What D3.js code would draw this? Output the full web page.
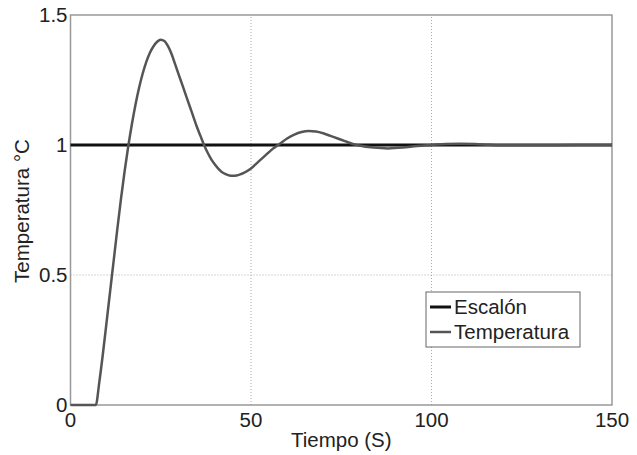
<!DOCTYPE html>
<html>
<head>
<meta charset="utf-8">
<script src="https://cdn.jsdelivr.net/npm/d3@7"></script>
<style>
  body { margin: 0; background: #fff; }
  text { font-family: "Liberation Sans", Arial, sans-serif; fill: #222; }
</style>
</head>
<body>
<script>
// step response, values
var tiempo = [0, 7, 8, 9, 10, 11, 12, 13, 14, 15, 16, 17, 18, 19, 20, 21, 22, 23, 24, 25,
  26, 27, 28, 29, 30, 31, 32, 33, 34, 35, 36, 37, 38, 39, 40, 41, 42, 43, 44, 45,
  46, 47, 48, 50, 52, 54, 56, 58, 60, 62, 64, 66, 68, 70, 72, 74, 76, 78, 80, 84,
  88, 92, 96, 100, 104, 108, 112, 116, 120, 130, 140, 150];
var temperatura = [0, 0, 0.09, 0.2, 0.32, 0.44, 0.56, 0.68, 0.795, 0.9, 0.995, 1.08, 1.155, 1.22, 1.275, 1.32, 1.355, 1.38, 1.397, 1.405,
  1.40, 1.38, 1.35, 1.31, 1.27, 1.23, 1.19, 1.15, 1.11, 1.07, 1.035, 1.0, 0.97, 0.945, 0.925, 0.908, 0.895, 0.888, 0.883, 0.882,
  0.883, 0.887, 0.893, 0.91, 0.935, 0.96, 0.985, 1.005, 1.025, 1.04, 1.05, 1.054, 1.052, 1.045, 1.035, 1.025, 1.015, 1.005, 0.998, 0.99,
  0.987, 0.99, 0.996, 1.0, 1.004, 1.005, 1.004, 1.001, 0.999, 0.999, 1.0, 1.0];
var escalon = [[0, 1], [150, 1]];
var xTicks = [0, 50, 100, 150];
var yTicks = [0, 0.5, 1, 1.5];
var yTickLabels = ["0", "0.5", "1", "1.5"];
var seriesNames = ["Escalón", "Temperatura"];

var width = 637, height = 455;
var margin = {top: 15, right: 25, bottom: 50, left: 70.5};
var fs = 20.5;

var svg = d3.select("body").append("svg")
    .attr("width", width)
    .attr("height", height);

var x = d3.scaleLinear().domain([0, 150]).range([margin.left, 612]);
var y = d3.scaleLinear().domain([0, 1.5]).range([405, margin.top]);

// grid
svg.selectAll(".gx")
  .data(xTicks.slice(1, -1))
  .enter().append("line")
    .attr("x1", function(d) { return x(d); })
    .attr("x2", function(d) { return x(d); })
    .attr("y1", y(0)).attr("y2", y(1.5))
    .attr("stroke", "#aaa").attr("stroke-width", 1)
    .attr("stroke-dasharray", "1,2");
svg.selectAll(".gy")
  .data(yTicks.slice(1, -1))
  .enter().append("line")
    .attr("y1", function(d) { return y(d); })
    .attr("y2", function(d) { return y(d); })
    .attr("x1", x(0)).attr("x2", x(150))
    .attr("stroke", "#aaa").attr("stroke-width", 1)
    .attr("stroke-dasharray", "1,2");

// box
svg.append("rect")
    .attr("x", x(0)).attr("y", y(1.5))
    .attr("width", x(150) - x(0)).attr("height", y(0) - y(1.5))
    .attr("fill", "none").attr("stroke", "#999").attr("stroke-width", 1.5);

// tick labels
svg.selectAll(".xl")
  .data(xTicks)
  .enter().append("text")
    .attr("x", function(d) { return x(d); })
    .attr("y", 427)
    .attr("text-anchor", "middle")
    .attr("font-size", fs)
    .text(function(d) { return d; });
svg.selectAll(".yl")
  .data(yTicks)
  .enter().append("text")
    .attr("x", x(0) - 3)
    .attr("y", function(d) { return y(d) + 7; })
    .attr("text-anchor", "end")
    .attr("font-size", fs)
    .text(function(d, i) { return yTickLabels[i]; });

// axis titles
svg.append("text")
    .attr("x", (x(0) + x(150)) / 2)
    .attr("y", 447)
    .attr("text-anchor", "middle")
    .attr("font-size", fs)
    .text("Tiempo (S)");
svg.append("text")
    .attr("transform", "translate(29,211) rotate(-90)")
    .attr("text-anchor", "middle")
    .attr("font-size", fs)
    .text("Temperatura °C");

var line = d3.line()
    .x(function(d) { return x(d[0]); })
    .y(function(d) { return y(d[1]); })
    .curve(d3.curveMonotoneX);

var temp = tiempo.map(function(t, i) { return [t, temperatura[i]]; });

svg.append("path")
    .datum(escalon)
    .attr("d", line)
    .attr("fill", "none").attr("stroke", "#111").attr("stroke-width", 3);

svg.append("path")
    .datum(temp)
    .attr("d", line)
    .attr("fill", "none").attr("stroke", "#555").attr("stroke-width", 2.5);

// legend
var lg = svg.append("g").attr("transform", "translate(426,292)");
lg.append("rect")
    .attr("width", 154).attr("height", 55)
    .attr("fill", "#fff").attr("stroke", "#666").attr("stroke-width", 1);
var colors = ["#111", "#555"];
seriesNames.forEach(function(name, i) {
  lg.append("line")
    .attr("x1", 4).attr("x2", 25)
    .attr("y1", 15 + i * 25).attr("y2", 15 + i * 25)
    .attr("stroke", colors[i]).attr("stroke-width", i == 0 ? 3 : 2.5);
  lg.append("text")
    .attr("x", 28).attr("y", 22 + i * 25)
    .attr("font-size", fs)
    .text(name);
});
</script>
</body>
</html>
